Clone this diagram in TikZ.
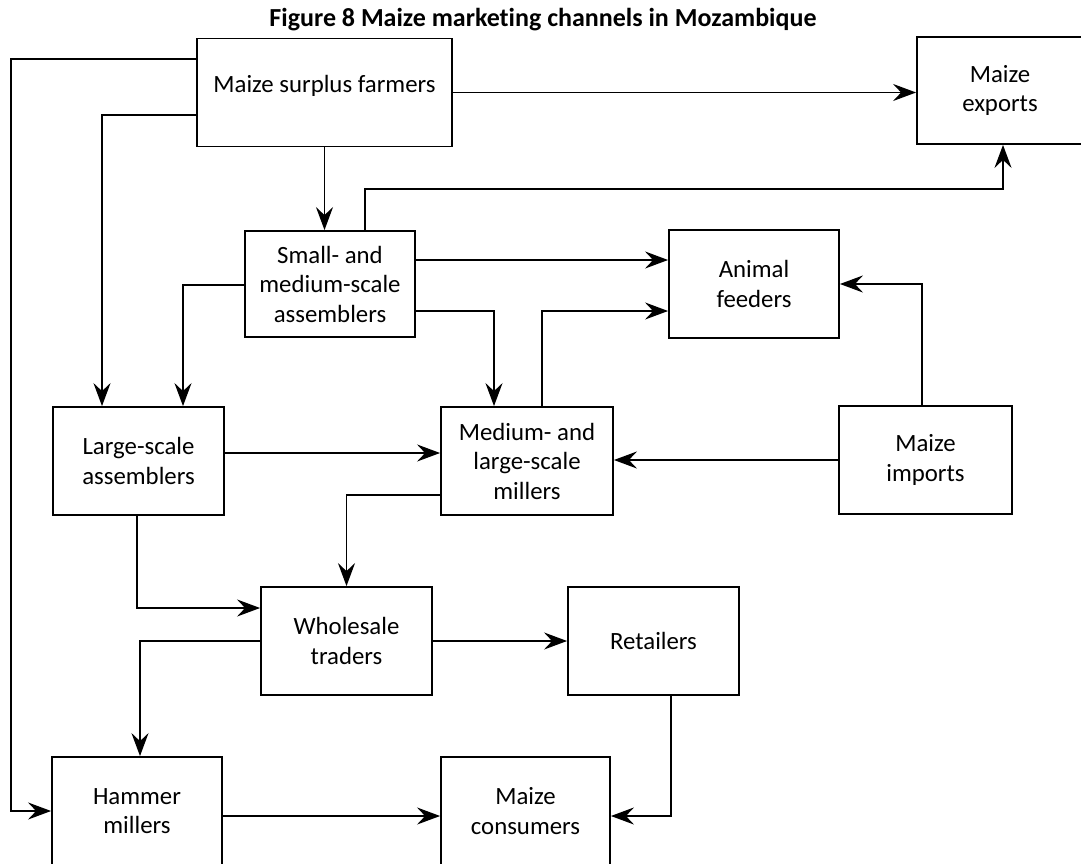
\documentclass[tikz,border=0pt]{standalone}
\usepackage{fontspec}
\setmainfont{Carlito}[Ligatures=NoCommon]
\usepackage{tikz}
\usetikzlibrary{arrows.meta, positioning, calc}

\begin{document}
\begin{tikzpicture}[
  x=1pt, y=-1pt,
  every node/.style={align=center},
  chan/.style={
    rectangle, draw=black, line width=1.8pt, fill=white,
    inner sep=0pt, minimum width=171pt, minimum height=108pt,
    font=\fontsize{24.8}{29.5}\selectfont
  },
  flow/.style={
    line width=1.8pt,
    -{Stealth[length=23pt, width=17pt, inset=8pt]}
  },
  heading/.style={
    font=\fontsize{26}{30}\selectfont\bfseries, inner sep=0pt
  }
]
\clip (0,0) rectangle (1081,864);
\fill[white] (0,0) rectangle (1081,864);

\node[heading, anchor=base] (title) at (543, 27) {Figure 8 Maize marketing channels in Mozambique};

\node[chan, minimum width=255pt, text depth=17pt] (F) at (324.5, 92.5) {Maize surplus farmers};
\node[chan, minimum width=166pt, minimum height=107pt] (E) at (1000, 90.5) {Maize\\exports};
\node[chan, minimum width=170pt, minimum height=106pt] (S) at (330, 284) {Small- and\\medium-scale\\assemblers};
\node[chan, minimum width=170pt] (A) at (754, 284) {Animal\\feeders};
\node[chan] (L) at (138.5, 461) {Large-scale\\assemblers};
\node[chan, minimum width=172pt] (M) at (527, 461) {Medium- and\\large-scale\\millers};
\node[chan, minimum width=173pt] (I) at (925.5, 460) {Maize\\imports};
\node[chan] (W) at (346.5, 641) {Wholesale\\traders};
\node[chan] (R) at (653.5, 641) {Retailers};
\node[chan, minimum width=170pt] (H) at (137, 811) {Hammer\\millers};
\node[chan, minimum width=169pt] (C) at (525.5, 811) {Maize\\consumers};

% out of the farmers
\draw[flow] (F.west |- 0,59) -- (11,59) |- (H.west);
\draw[flow] (F.west |- 0,115) -- (102,115) -- (L.north -| 102,0);
\draw[flow] (F.south) -- (S.north -| F.south);
\draw[flow] (F.east) -- (E.west |- F.east);

% assemblers
\draw[flow] (S.north -| 365,0) -- (365,189) -| (E.south -| 1003,0);
\draw[flow] (S.east |- 0,260) -- (A.west |- 0,260);
\draw[flow] (S.west |- 0,285) -- (183,285) -- (L.north -| 183,0);
\draw[flow] (S.east |- 0,311) -- (494,311) -- (M.north -| 494,0);
\draw[flow] (L.east |- 0,453) -- (M.west |- 0,453);
\draw[flow] (L.south -| 137,0) |- (W.west |- 0,608);

% millers and imports
\draw[flow] (M.north -| 542,0) |- (A.west |- 0,311);
\draw[flow] (I.north -| 922,0) |- (A.east |- 0,284);
\draw[flow] (I.west) -- (M.east |- I.west);
\draw[flow] (M.west |- 0,495) -| (W.north);

% down to the consumers
\draw[flow] (W.west) -| (H.north -| 140,0);
\draw[flow] (W.east) -- (R.west);
\draw[flow] (R.south -| 671,0) |- (C.east |- 0,816);
\draw[flow] (H.east |- 0,816) -- (C.west |- 0,816);
\end{tikzpicture}
\end{document}
